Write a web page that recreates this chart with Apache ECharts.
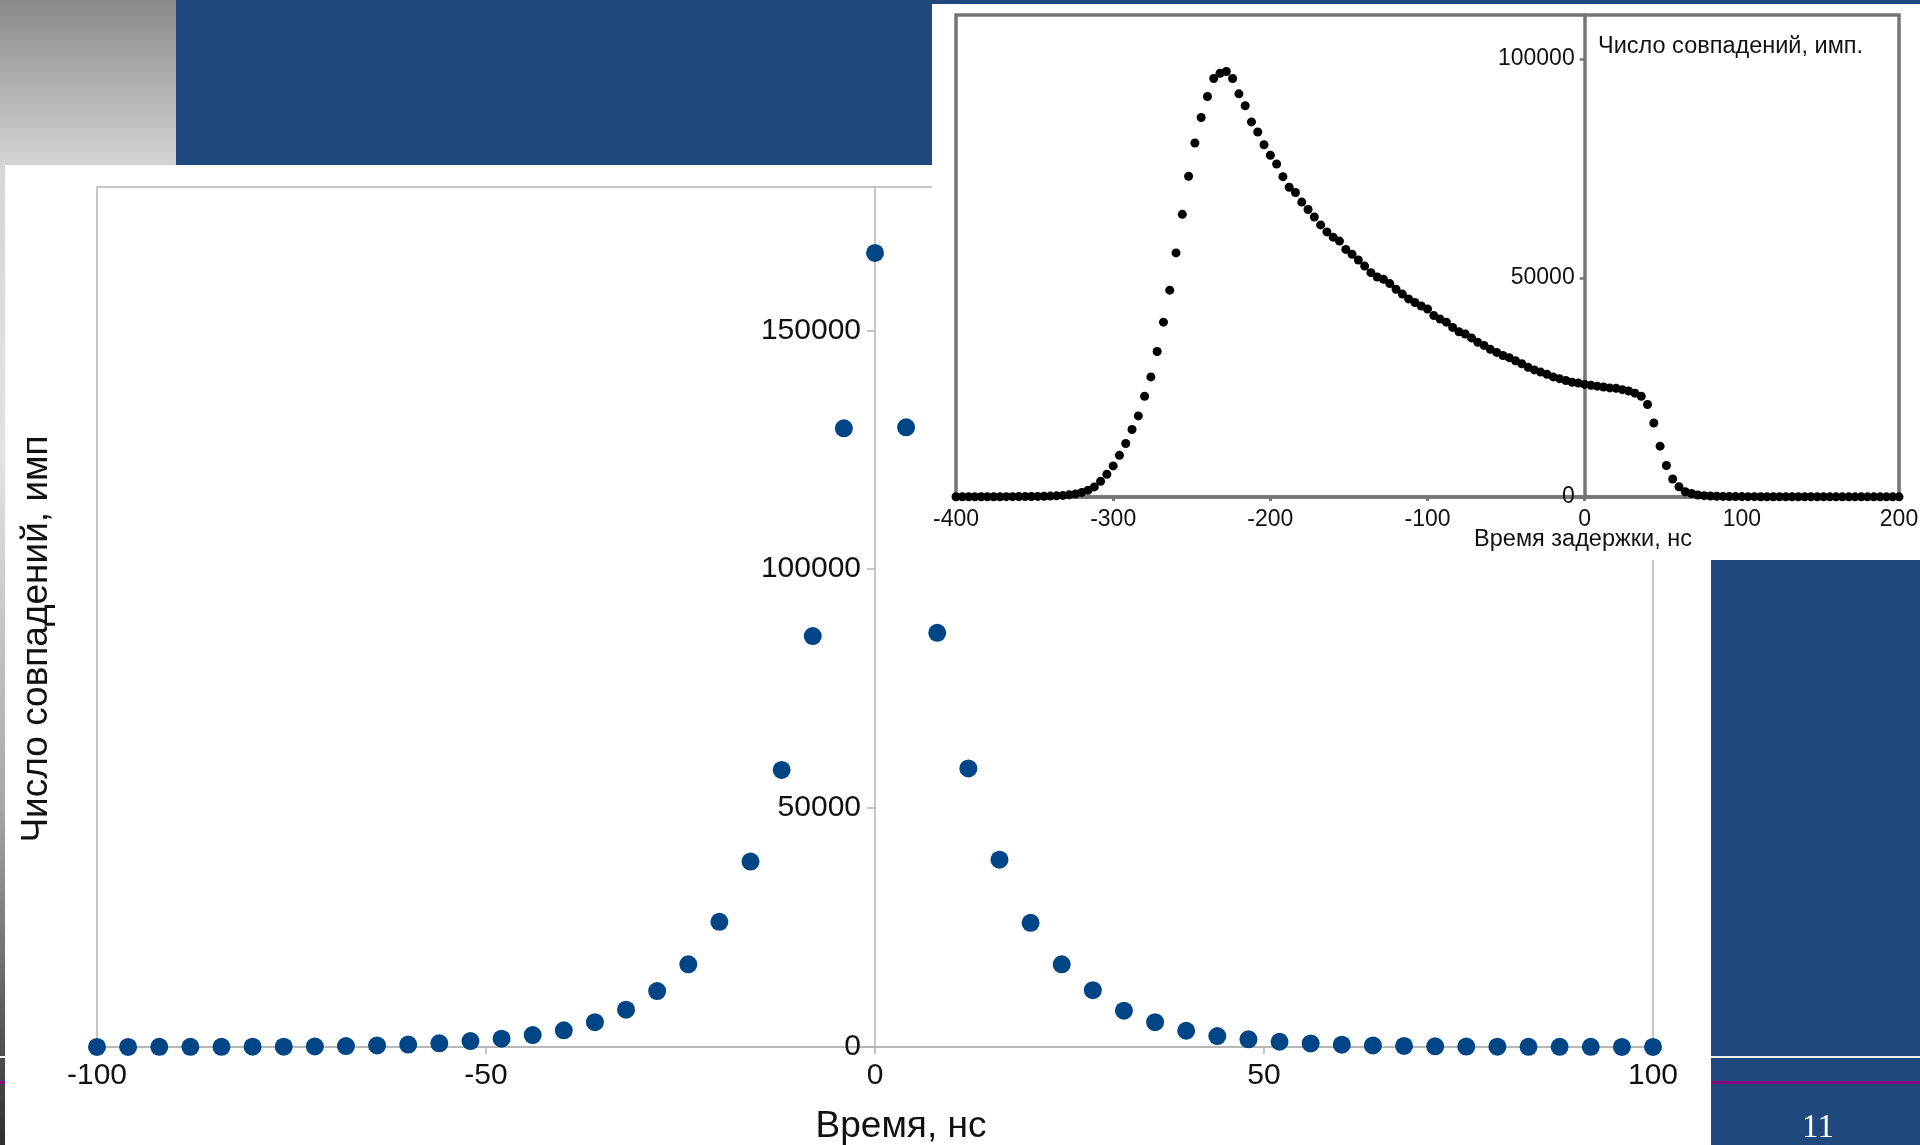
<!DOCTYPE html>
<html>
<head>
<meta charset="utf-8">
<script src="https://cdn.jsdelivr.net/npm/echarts@6/dist/echarts.min.js"></script>
<style>
  html, body { margin: 0; padding: 0; background: #ffffff; }
  #chart { width: 1920px; height: 1145px; }
</style>
</head>
<body>
<div id="chart"></div>
<script>
// Main chart: coincidence counts vs. time (ns)
const mainTime = [
  -100, -96, -92, -88, -84, -80, -76, -72, -68, -64,
  -60, -56, -52, -48, -44, -40, -36, -32, -28, -24,
  -20, -16, -12, -8, -4, 0, 4, 8, 12, 16,
  20, 24, 28, 32, 36, 40, 44, 48, 52, 56,
  60, 64, 68, 72, 76, 80, 84, 88, 92, 96,
  100
];
const mainCounts = [
  20, 25, 30, 35, 45, 55, 75, 120, 200, 330,
  500, 780, 1250, 1750, 2500, 3500, 5200, 7800, 11700, 17300,
  26200, 38800, 58000, 86000, 129500, 166200, 129700, 86700, 58300, 39200,
  26000, 17300, 11900, 7600, 5200, 3400, 2300, 1600, 1100, 750,
  480, 330, 220, 140, 90, 60, 45, 35, 30, 25,
  20
];
const mainXTicks = [-100, -50, 0, 50, 100];
const mainYTicks = [0, 50000, 100000, 150000];

// Inset: coincidence counts vs. delay time (ns)
const insetTime = [
  -400, -396, -392, -388, -384, -380, -376, -372, -368, -364,
  -360, -356, -352, -348, -344, -340, -336, -332, -328, -324,
  -320, -316, -312, -308, -304, -300, -296, -292, -288, -284,
  -280, -276, -272, -268, -264, -260, -256, -252, -248, -244,
  -240, -236, -232, -228, -224, -220, -216, -212, -208, -204,
  -200, -196, -192, -188, -184, -180, -176, -172, -168, -164,
  -160, -156, -152, -148, -144, -140, -136, -132, -128, -124,
  -120, -116, -112, -108, -104, -100, -96, -92, -88, -84,
  -80, -76, -72, -68, -64, -60, -56, -52, -48, -44,
  -40, -36, -32, -28, -24, -20, -16, -12, -8, -4,
  0, 4, 8, 12, 16, 20, 24, 28, 32, 36,
  40, 44, 48, 52, 56, 60, 64, 68, 72, 76,
  80, 84, 88, 92, 96, 100, 104, 108, 112, 116,
  120, 124, 128, 132, 136, 140, 144, 148, 152, 156,
  160, 164, 168, 172, 176, 180, 184, 188, 192, 196,
  200
];
const insetCounts = [
  60, 50, 60, 50, 60, 70, 60, 70, 80, 80,
  90, 110, 120, 140, 170, 210, 270, 360, 490, 700,
  1050, 1550, 2300, 3600, 5200, 7100, 9500, 12200, 15400, 18500,
  23000, 27400, 33200, 39900, 47200, 55700, 64500, 73200, 80800, 86600,
  91400, 95500, 96700, 97100, 95500, 92000, 89300, 85600, 83300, 80400,
  78000, 76000, 73100, 70700, 69500, 67300, 65600, 63900, 62100, 60500,
  59300, 58400, 56500, 55400, 54100, 52700, 51200, 50200, 49700, 48700,
  47400, 46300, 45200, 44400, 43600, 42900, 41400, 40600, 39900, 38700,
  37700, 37200, 36300, 35300, 34600, 33700, 33000, 32300, 31800, 31100,
  30400, 29600, 29000, 28500, 28000, 27400, 27000, 26600, 26200, 26000,
  25700, 25500, 25300, 25100, 24900, 24800, 24500, 24200, 23700, 23000,
  21100, 16900, 11600, 7200, 4100, 2350, 1200, 800, 450, 300,
  220, 170, 140, 120, 100, 90, 80, 80, 70, 70,
  60, 60, 60, 50, 50, 50, 50, 40, 50, 40,
  40, 40, 40, 30, 40, 30, 30, 30, 30, 30,
  30
];
const insetXTicks = [-400, -300, -200, -100, 0, 100, 200];
const insetYTicks = [0, 50000, 100000];

const mainPairs = mainTime.map((t, i) => [t, mainCounts[i]]);
const insetPairs = insetTime.map((t, i) => [t, insetCounts[i]]);

const SANS = 'Liberation Sans, Arial, sans-serif';
const mainAxisGray = '#b3b3b3';
const insetAxisGray = '#757575';
const slideBlue = '#1f497d';
const plain = v => String(v);

// plot rectangles (px)
const mainGrid = { left: 97, top: 187, width: 1556, height: 860 };
const insetGrid = { left: 956, top: 15, width: 943, height: 482 };
// the vertical axes sit on t = 0, so shift them in from the left edge of each plot
const mainYOffset = -mainGrid.width * (0 - (-100)) / (100 - (-100));
const insetYOffset = -insetGrid.width * (0 - (-400)) / (200 - (-400));

const chart = echarts.init(document.getElementById('chart'), null, { renderer: 'canvas' });

chart.setOption({
  animation: false,
  backgroundColor: '#ffffff',
  grid: [
    Object.assign({
      show: true, borderColor: mainAxisGray, borderWidth: 1.5,
      backgroundColor: 'transparent', z: 0, containLabel: false, outerBoundsMode: 'none'
    }, mainGrid),
    Object.assign({
      show: true, borderColor: insetAxisGray, borderWidth: 3.5,
      backgroundColor: 'transparent', z: 2, containLabel: false, outerBoundsMode: 'none'
    }, insetGrid)
  ],
  xAxis: [
    {
      gridIndex: 0, type: 'value', min: -100, max: 100, interval: 50, z: 0,
      axisLine: { show: true, onZero: false, lineStyle: { color: mainAxisGray, width: 1.5 } },
      axisTick: { show: true, length: 7, customValues: mainXTicks, lineStyle: { color: mainAxisGray, width: 1.5 } },
      axisLabel: { customValues: mainXTicks, formatter: plain, fontSize: 30, color: '#111', fontFamily: SANS, margin: 14 },
      splitLine: { show: false }
    },
    {
      gridIndex: 1, type: 'value', min: -400, max: 200, interval: 100, z: 2,
      axisLine: { show: true, onZero: false, lineStyle: { color: insetAxisGray, width: 3.5 } },
      axisTick: { show: true, length: 4, customValues: insetXTicks, lineStyle: { color: insetAxisGray, width: 3 } },
      axisLabel: { customValues: insetXTicks, formatter: plain, fontSize: 23, color: '#111', fontFamily: SANS, margin: 11 },
      splitLine: { show: false }
    }
  ],
  yAxis: [
    {
      gridIndex: 0, type: 'value', min: 0, max: 180000, interval: 50000, z: 0,
      position: 'left', offset: mainYOffset,
      axisLine: { show: true, onZero: false, lineStyle: { color: mainAxisGray, width: 1.5 } },
      axisTick: { show: true, length: 8, customValues: mainYTicks, lineStyle: { color: mainAxisGray, width: 1.5 } },
      axisLabel: { customValues: mainYTicks, formatter: plain, fontSize: 30, color: '#111', fontFamily: SANS, margin: 14 },
      splitLine: { show: false }
    },
    {
      gridIndex: 1, type: 'value', min: 0, max: 110000, interval: 50000, z: 2,
      position: 'left', offset: insetYOffset,
      axisLine: { show: true, onZero: false, lineStyle: { color: insetAxisGray, width: 3.5 } },
      axisTick: { show: true, length: 5, customValues: insetYTicks, lineStyle: { color: insetAxisGray, width: 2.5 } },
      axisLabel: { customValues: insetYTicks, formatter: plain, fontSize: 23, color: '#111', fontFamily: SANS, margin: 10 },
      splitLine: { show: false }
    }
  ],
  series: [
    {
      name: 'Число совпадений',
      type: 'scatter', xAxisIndex: 0, yAxisIndex: 0, z: 2,
      symbol: 'circle', symbolSize: 18,
      itemStyle: { color: '#004586', opacity: 1 },
      data: mainPairs
    },
    {
      name: 'Число совпадений (задержка)',
      type: 'scatter', xAxisIndex: 1, yAxisIndex: 1, z: 4,
      symbol: 'circle', symbolSize: 9,
      itemStyle: { color: '#000000', opacity: 1 },
      data: insetPairs
    }
  ],
  graphic: [
    // slide backdrop
    { type: 'rect', z: -10, shape: { x: 0, y: 0, width: 176, height: 165 },
      style: { fill: new echarts.graphic.LinearGradient(0, 0, 0, 1, [
        { offset: 0, color: '#8a8a8a' }, { offset: 1, color: '#d4d4d4' }]) } },
    { type: 'rect', z: -10, shape: { x: 0, y: 165, width: 5, height: 980 },
      style: { fill: new echarts.graphic.LinearGradient(0, 0, 0, 1, [
        { offset: 0, color: '#d6d6d6' }, { offset: 0.3, color: '#e2e2e2' },
        { offset: 0.65, color: '#a8a8a8' }, { offset: 1, color: '#2e2e2e' }]) } },
    { type: 'rect', z: -10, shape: { x: 176, y: 0, width: 1744, height: 165 }, style: { fill: slideBlue } },
    { type: 'rect', z: -10, shape: { x: 1711, y: 560, width: 209, height: 585 }, style: { fill: slideBlue } },
    { type: 'rect', z: -9, shape: { x: 0, y: 1056, width: 1920, height: 2 }, style: { fill: '#eef1f5' } },
    { type: 'rect', z: -9, shape: { x: 0, y: 1081, width: 1920, height: 3 }, style: { fill: '#8b0a84' } },
    { type: 'rect', z: -8, shape: { x: 5, y: 165, width: 1706, height: 980 }, style: { fill: '#ffffff' } },
    { type: 'text', z: -7, x: 1818, y: 1128,
      style: { text: '11', fill: '#ffffff', font: '33px "Liberation Serif", serif', align: 'center', verticalAlign: 'middle' } },
    // inset panel
    { type: 'rect', z: 1, shape: { x: 932, y: 4, width: 988, height: 556 }, style: { fill: '#ffffff' } },
    // axis titles
    { type: 'text', z: 5, x: 37, y: 639, rotation: Math.PI / 2,
      style: { text: 'Число совпадений, имп', fill: '#111', font: '37px ' + SANS, align: 'center', verticalAlign: 'middle' } },
    { type: 'text', z: 5, x: 901, y: 1127,
      style: { text: 'Время, нс', fill: '#111', font: '37px ' + SANS, align: 'center', verticalAlign: 'middle' } },
    { type: 'text', z: 5, x: 1598, y: 47,
      style: { text: 'Число совпадений, имп.', fill: '#111', font: '23.5px ' + SANS, align: 'left', verticalAlign: 'middle' } },
    { type: 'text', z: 5, x: 1583, y: 540,
      style: { text: 'Время задержки, нс', fill: '#111', font: '23.5px ' + SANS, align: 'center', verticalAlign: 'middle' } }
  ]
});
</script>
</body>
</html>
